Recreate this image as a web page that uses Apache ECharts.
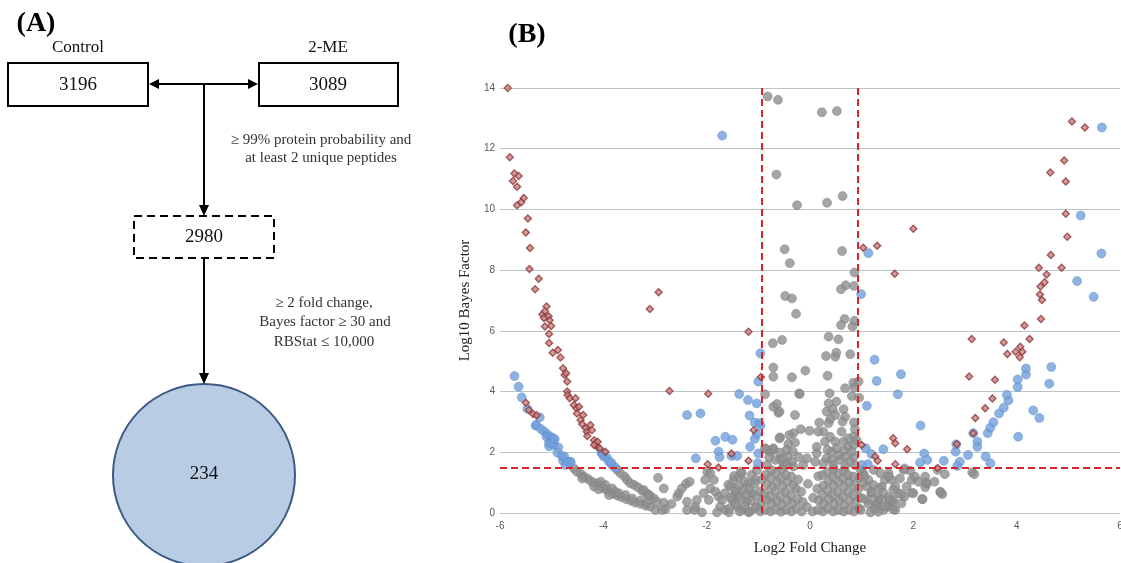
<!DOCTYPE html>
<html><head><meta charset="utf-8">
<script src="https://cdn.jsdelivr.net/npm/echarts@6/dist/echarts.min.js"></script>
<style>html,body{margin:0;padding:0;background:#fff}#c{width:1121px;height:563px}</style>
</head><body><div id="c"></div>
<script>
// ---------- Panel A (flowchart) values ----------
const controlCount = 3196;
const meCount = 3089;
const filteredCount = 2980;
const significantCount = 234;
const filterText1 = ['\u2265 99% protein probability and', 'at least 2 unique peptides'];
const filterText2 = ['\u2265 2 fold change,', 'Bayes factor \u2265 30 and', 'RBStat \u2264 10,000'];

// ---------- Panel B (volcano) values ----------
const xTicks = [-6, -4, -2, 0, 2, 4, 6];
const yTicks = [0, 2, 4, 6, 8, 10, 12, 14];
const foldThresholds = [-0.93, 0.93];
const bayesThreshold = 1.477;

const redPoints = [
[-5.85,14.0],[-5.81,11.72],[-5.72,11.18],[-5.64,11.10],[-5.75,10.94],[-5.67,10.75],[-5.54,10.38],[-5.59,10.24],[-5.67,10.14],[-5.46,9.70],[-5.50,9.24],[-5.42,8.73],[-5.43,8.04],[-5.25,7.72],[-5.32,7.37],
[-5.10,6.80],[-5.18,6.55],[-5.13,6.65],[-5.15,6.42],[-5.06,6.48],[-5.04,6.35],[-5.13,6.14],[-5.01,6.16],[-5.05,5.90],[-5.05,5.60],[-4.98,5.28],[-4.88,5.37],[-4.83,5.12],[-4.78,4.77],[-4.75,4.55],[-4.72,4.60],[-4.70,4.33],[-4.70,4.00],[-4.69,3.89],[-4.65,3.78],[-4.54,3.78],[-4.57,3.56],[-4.52,3.45],[-4.47,3.50],[-4.51,3.28],[-4.39,3.23],[-4.44,3.06],[-4.41,2.93],[-4.34,2.79],[-4.25,2.90],[-4.32,2.68],[-4.22,2.73],[-4.31,2.54],[-4.18,2.40],[-4.15,2.30],[-4.12,2.18],[-4.07,2.13],[-4.11,2.35],[-3.96,2.02],[-4.18,2.24],
[-5.50,3.63],[-5.44,3.39],[-5.36,3.26],[-5.29,3.22],
[-2.93,7.27],[-3.10,6.72],[-1.19,5.97],[-2.72,4.02],[-1.97,3.93],[-0.95,4.48],[-1.09,2.73],[-1.52,1.96],[-1.19,1.72],[-1.98,1.61],[-1.77,1.50],
[5.07,12.90],[5.32,12.70],[4.92,11.61],[4.65,11.22],[4.95,10.92],[4.95,9.86],[4.98,9.10],[4.66,8.50],[4.43,8.08],[4.87,8.08],[4.58,7.86],[4.54,7.60],[4.46,7.46],[4.45,7.20],[4.49,7.02],[4.47,6.39],[4.15,6.18],[2.00,9.36],[1.03,8.74],[1.30,8.80],[1.64,7.88],
[4.25,5.73],[3.13,5.73],[3.75,5.62],[4.07,5.48],[3.98,5.31],[4.11,5.31],[4.06,5.13],[3.82,5.24],[3.08,4.50],[3.58,4.39],[3.53,3.77],[3.39,3.45],[3.20,3.13],[3.16,2.63],[2.84,2.27],[1.61,2.46],[1.65,2.30],[1.88,2.10],[1.00,2.24],[1.26,1.86],[1.31,1.72],[1.65,1.61],[2.47,1.48]
];

const bluePoints = [
[-5.72,4.51],[-5.64,4.16],[-5.58,3.81],[-5.47,3.43],[-5.23,3.15],[-5.31,2.88],[-5.21,2.77],[-5.14,2.68],[-5.08,2.59],[-5.10,2.51],[-5.02,2.46],[-4.97,2.43],[-5.05,2.30],[-5.05,2.20],[-4.96,2.24],[-4.87,2.16],[-4.89,1.99],[-4.80,1.88],[-4.78,1.72],[-4.73,1.58],[-4.65,1.69],[-5.30,2.90],[-4.99,2.49],[-5.00,2.30],[-4.94,2.43],[-4.76,1.86],[-4.70,1.69],[-4.63,1.68],
[-4.04,1.99],[-3.99,1.86],[-3.93,1.82],[-3.89,1.69],[-3.83,1.58],[-3.77,1.50],[-4.02,1.96],[-3.85,1.66],
[-1.00,4.33],[-1.37,3.92],[-1.20,3.72],[-1.03,3.61],[-2.38,3.23],[-2.12,3.28],[-1.17,3.21],[-1.07,2.98],[-0.98,2.96],[-1.03,2.60],[-1.07,2.44],[-1.83,2.38],[-1.64,2.51],[-1.50,2.41],[-1.16,2.18],[-1.77,2.02],[-1.75,1.84],[-1.52,1.88],[-1.41,1.88],[-2.21,1.80],[-1.00,1.96],[-1.01,1.64],[-0.96,5.26],[-1.70,12.43],[-0.96,2.88],
[1.13,8.56],[0.99,7.21],[1.25,5.05],[1.29,4.35],[1.76,4.57],[1.70,3.91],[1.10,3.53],[2.14,2.88],[1.08,2.13],[1.19,1.94],[1.42,2.10],[1.12,1.61],[1.00,1.58],[2.21,1.96],[2.27,1.75],[2.13,1.66],[2.59,1.72],[2.82,2.02],[2.90,1.69],[2.85,1.55],[3.06,1.91],[3.24,2.35],[3.24,2.18],[3.16,2.63],[2.83,2.26],[3.40,1.86],[3.49,1.64],[3.44,2.63],[3.49,2.81],[3.55,2.99],[3.66,3.28],[3.75,3.47],[3.84,3.71],[3.81,3.89],[4.02,4.15],[4.02,4.40],[4.18,4.56],[4.18,4.76],[4.32,3.38],[4.44,3.13],[4.03,2.51],[4.63,4.26],[4.67,4.81],[5.17,7.64],[5.49,7.12],[5.65,12.70],[5.24,9.80],[5.64,8.55]
];

const grayUpper = [
[-0.82,13.72],[-0.62,13.61],[0.23,13.20],[0.52,13.24],[-0.65,11.15],[-0.25,10.14],[0.33,10.22],[0.63,10.44],[-0.49,8.69],[-0.39,8.23],[0.62,8.63],[0.86,7.92],[0.69,7.50],[0.60,7.37],[0.85,7.48],[-0.48,7.15],[-0.35,7.07],[-0.27,6.56],[0.67,6.39],[0.60,6.19],[0.86,6.33],[0.82,6.14],[0.36,5.81],[0.55,5.72],[-0.72,5.59],[-0.54,5.70],[0.31,5.17],[0.49,5.15],[0.51,5.28],[0.78,5.23],[-0.71,4.79],[-0.09,4.69],[0.34,4.52],[-0.71,4.49],[-0.35,4.47],
[-0.87,3.91],[-0.71,3.50],[-0.64,3.59],[-0.61,3.30],[-0.58,2.49],[-0.87,2.13],[-0.77,2.02],[-0.71,2.13],
[0.68,4.11],[0.84,4.29],[0.94,4.33],[-0.20,3.92],[0.38,3.94],[0.51,3.67],[0.36,3.61],[0.81,3.85],[0.95,3.80],[-0.59,3.34],[-0.29,3.23],[0.32,3.34],[0.44,3.42],[0.49,3.23],[0.39,3.09],[0.36,2.96],[0.18,2.98],[0.26,2.68],[0.65,3.42],[0.68,3.17],[0.63,3.01],[0.85,2.98],[0.87,2.76],[0.84,2.51],[0.74,2.46],[0.65,2.35],[0.61,2.68],[0.74,2.18],[0.65,2.05],[0.55,1.91],[0.68,1.84],[0.84,1.84],[0.13,1.97],[0.34,2.08],[0.32,1.80],[0.42,1.75],[-0.01,2.71],[-0.18,2.76],[-0.59,2.46],[-0.42,2.27],[-0.45,2.08],[-0.33,2.02],[-0.29,2.32],[-0.22,1.84],[-0.43,1.84],[-0.35,1.69],[-0.58,1.77],[-0.32,2.63],[-0.40,2.57],[-0.71,2.08],[-0.51,1.58],[-0.32,1.53],[-0.13,1.58],[-0.06,1.80],[0.13,2.18],[0.29,2.35],[0.16,2.68],[0.39,2.51],[0.49,2.35],[0.42,2.02],[0.52,2.13],[0.58,1.75],[0.78,1.69],[0.87,1.58],[0.45,1.58],[0.26,1.64],[0.10,1.69],[0.68,1.53],[0.84,2.24],[0.81,2.02],[0.90,2.40],
[-0.85,2.10],[-0.79,1.84],[-0.67,1.75],[-0.58,1.99],[-0.53,1.80],[-0.45,1.58],[-0.83,1.58],[-0.21,3.94],[0.86,4.13]
];

const grayLeftCurves = [
[-4.57,1.47],[-4.51,1.36],[-4.43,1.28],[-4.38,1.20],[-4.31,1.14],[-4.25,1.06],[-4.18,1.00],[-4.11,0.96],[-4.05,0.89],[-3.99,0.81],[-3.93,0.76],[-3.86,0.69],[-3.80,0.63],[-3.72,0.57],[-3.64,0.52],[-3.55,0.45],[-3.46,0.40],[-3.38,0.34],[-3.28,0.30],[-3.18,0.24],[-3.09,0.21],[-2.99,0.10],
[-4.41,1.14],[-4.18,0.87],[-4.09,0.78],[-3.89,0.59],[-4.05,1.03],[-3.96,0.92],[-3.83,0.81],[-3.77,0.70],[-3.70,0.65],[-3.57,0.59],[-3.44,0.48],[-3.28,0.41],[-3.15,0.34],
[-3.73,1.42],[-3.67,1.31],[-3.59,1.20],[-3.54,1.09],[-3.48,0.98],[-3.40,0.92],[-3.33,0.85],[-3.25,0.73],[-3.16,0.65],[-3.10,0.57],[-3.02,0.48],[-2.96,0.37],
[-3.22,0.76],[-3.12,0.59],[-2.83,0.34],[-2.80,0.12],[-2.86,0.10]
];

const graySparseLeft = [
[-2.94,1.16],[-2.83,0.81],[-2.68,0.30],[-2.57,0.54],[-2.54,0.65],[-2.40,0.96],[-2.33,1.03],[-2.48,0.81],[-2.38,0.37],[-2.38,0.10],[-2.23,0.10],[-2.22,0.21],[-2.09,0.02],[-2.19,0.43],[-2.06,0.65],[-2.03,1.09],[-1.99,1.36],[-1.93,1.31],[-1.86,1.09],[-1.93,0.81],[-1.96,0.43],[-1.83,0.70],[-1.77,0.54],[-1.70,0.43],[-1.74,0.21],[-1.64,0.10],[-1.57,0.02],[-1.65,0.65],[-1.54,0.87],[-1.48,1.09],[-1.38,1.20],[-1.32,1.31],[-1.45,0.65],[-1.51,0.43],[-1.38,0.54],[-1.29,0.76],[-1.41,0.21],[-1.32,0.10],[-1.22,0.37],[-1.19,0.98],[-1.12,0.65],[-1.06,1.09],[-1.03,0.21],[-1.19,0.02],[-1.80,0.02]
];

const grayCenterMass = [
[-1.56,0.15],[-1.53,0.52],[-1.58,0.93],
[-1.45,0.30],[-1.43,0.76],[-1.47,1.22],
[-1.36,0.05],[-1.33,0.46],[-1.37,0.90],[-1.34,1.36],
[-1.26,0.20],[-1.23,0.62],[-1.27,1.05],
[-1.16,0.05],[-1.14,0.41],[-1.17,0.80],[-1.13,1.26],
[-1.06,0.16],[-1.04,0.55],[-1.07,0.96],[-1.03,1.41],
[-0.96,0.05],[-0.94,0.36],[-0.97,0.71],[-0.93,1.11],
[-0.86,0.10],[-0.84,0.42],[-0.87,0.66],[-0.83,0.95],[-0.86,1.26],
[-0.76,0.05],[-0.74,0.31],[-0.77,0.56],[-0.73,0.86],[-0.76,1.16],[-0.74,1.41],
[-0.66,0.11],[-0.64,0.40],[-0.67,0.71],[-0.63,1.01],[-0.66,1.31],
[-0.56,0.04],[-0.54,0.26],[-0.57,0.55],[-0.53,0.86],[-0.56,1.15],[-0.54,1.45],
[-0.46,0.10],[-0.44,0.41],[-0.47,0.70],[-0.43,1.01],[-0.46,1.25],
[-0.36,0.05],[-0.34,0.31],[-0.37,0.60],[-0.33,0.91],[-0.36,1.20],
[-0.26,0.15],[-0.24,0.46],[-0.27,0.80],[-0.23,1.10],
[-0.16,0.05],[-0.14,0.36],[-0.17,0.70],
[-0.06,0.20],[-0.04,0.96],
[0.05,0.05],[0.06,0.50],
[0.15,0.10],[0.17,0.41],[0.14,0.80],[0.16,1.21],
[0.25,0.05],[0.27,0.31],[0.24,0.60],[0.26,0.91],[0.24,1.25],
[0.35,0.15],[0.37,0.46],[0.34,0.75],[0.36,1.06],[0.34,1.35],
[0.45,0.05],[0.47,0.31],[0.44,0.60],[0.46,0.91],[0.44,1.20],[0.46,1.45],
[0.55,0.10],[0.57,0.41],[0.54,0.70],[0.56,1.01],[0.54,1.30],
[0.65,0.05],[0.67,0.26],[0.64,0.55],[0.66,0.86],[0.64,1.15],[0.66,1.40],
[0.75,0.10],[0.77,0.41],[0.74,0.70],[0.76,1.01],[0.74,1.25],
[0.85,0.05],[0.87,0.31],[0.84,0.60],[0.86,0.91],[0.84,1.20],
[0.95,0.15],[0.97,0.50],[0.94,0.80],[0.96,1.15]
];

const grayRight = [
[1.03,1.31],[1.13,1.09],[1.10,0.87],[1.19,0.65],[1.13,0.43],[1.26,0.21],[1.32,0.43],[1.39,0.87],[1.45,1.09],[1.52,1.31],[1.58,1.09],[1.65,0.87],[1.71,0.65],[1.61,0.43],[1.52,0.21],[1.65,0.10],[1.77,0.32],[1.83,0.54],[1.87,0.87],[1.97,1.09],[2.03,1.20],[2.10,1.03],[2.23,1.20],[2.26,0.96],[2.23,0.85],[2.41,1.03],[2.47,1.42],[2.61,1.28],[2.52,0.70],[2.56,0.62],[2.17,0.46],[2.00,0.65],[1.81,1.42],[1.94,1.39],[3.14,1.34],[3.18,1.28],
[0.98,1.42],[1.05,1.22],[1.02,1.00],[1.23,0.92],[1.19,0.70],[1.34,0.81],[1.42,0.67],[1.32,0.52],[1.52,0.52],[1.60,0.34],[1.29,0.30],[1.13,0.30],[1.02,0.48],[0.98,0.10],[1.17,0.02],[1.42,0.10],[1.26,0.12],[1.36,1.31],[1.52,1.20],[1.23,1.42],
[1.83,1.47],[1.74,1.14],[1.61,0.76],[1.77,0.63],[1.97,0.67],[2.18,0.45],[2.25,1.00],[2.53,0.67],[1.39,0.43],[1.55,0.43],[1.45,0.21],[1.61,0.12],[1.32,0.04]
];

const grayPoints = [].concat(grayUpper, grayLeftCurves, graySparseLeft, grayCenterMass, grayRight);

const serif = '"Liberation Serif","Times New Roman",serif';
function txt(x, y, text, size, extra) {
  return { type: 'text', x: x, y: y, z: 10,
    style: Object.assign({ text: text, fontFamily: serif, fontSize: size, fill: '#111', align: 'center', verticalAlign: 'middle' }, extra || {}) };
}
function tri(points) { return { type: 'polygon', z: 10, shape: { points: points }, style: { fill: '#000' } }; }
function seg(x1, y1, x2, y2) { return { type: 'line', z: 9, shape: { x1: x1, y1: y1, x2: x2, y2: y2 }, style: { stroke: '#000', lineWidth: 2 } }; }

const graphics = [
  txt(36, 24, '(A)', 28, { fontWeight: 'bold', fill: '#000' }),
  txt(527, 35, '(B)', 28, { fontWeight: 'bold', fill: '#000' }),
  txt(78, 48, 'Control', 17),
  txt(328, 48, '2-ME', 17),
  { type: 'rect', z: 9, shape: { x: 8, y: 63, width: 140, height: 43 }, style: { fill: '#fff', stroke: '#000', lineWidth: 2 } },
  { type: 'rect', z: 9, shape: { x: 259, y: 63, width: 139, height: 43 }, style: { fill: '#fff', stroke: '#000', lineWidth: 2 } },
  txt(78, 85, String(controlCount), 19),
  txt(328, 85, String(meCount), 19),
  seg(156, 84, 251, 84),
  tri([[149, 84], [159, 79], [159, 89]]),
  tri([[258, 84], [248, 79], [248, 89]]),
  seg(204, 84, 204, 207),
  tri([[204, 216], [199, 205], [209, 205]]),
  txt(321, 140, filterText1[0], 15, { fill: '#333' }),
  txt(321, 158, filterText1[1], 15, { fill: '#333' }),
  { type: 'rect', z: 9, shape: { x: 134, y: 216, width: 140, height: 42 }, style: { fill: '#fff', stroke: '#000', lineWidth: 2, lineDash: [8, 5] } },
  txt(204, 237, String(filteredCount), 19),
  seg(204, 258, 204, 375),
  tri([[204, 384], [199, 373], [209, 373]]),
  txt(324, 303, filterText2[0], 15, { fill: '#333' }),
  txt(325, 322, filterText2[1], 15, { fill: '#333' }),
  txt(324, 342, filterText2[2], 15, { fill: '#333' }),
  { type: 'circle', z: 8, shape: { cx: 204, cy: 475, r: 91 }, style: { fill: '#b8cce4', stroke: '#3d5a84', lineWidth: 2 } },
  txt(204, 474, String(significantCount), 19)
];

const chart = echarts.init(document.getElementById('c'), null, { renderer: 'canvas' });
chart.setOption({
  animation: false,
  backgroundColor: '#fff',
  grid: { left: 500, right: 1, top: 88, bottom: 50, containLabel: false, outerBoundsMode: 'none' },
  xAxis: {
    type: 'value', min: xTicks[0], max: xTicks[xTicks.length - 1], interval: 2,
    name: 'Log2 Fold Change', nameLocation: 'middle', nameGap: 28,
    nameTextStyle: { fontFamily: serif, fontSize: 15, color: '#222' },
    axisLine: { show: false }, axisTick: { show: false }, splitLine: { show: false },
    axisLabel: { color: '#595959', fontSize: 10, fontFamily: '"Liberation Sans",Arial,sans-serif', margin: 8 }
  },
  yAxis: {
    type: 'value', min: yTicks[0], max: yTicks[yTicks.length - 1], interval: 2,
    name: 'Log10 Bayes Factor', nameLocation: 'middle', nameGap: 26,
    nameTextStyle: { fontFamily: serif, fontSize: 15, color: '#222' },
    axisLine: { show: false }, axisTick: { show: false },
    splitLine: { show: true, lineStyle: { color: '#b9c4cb', width: 1 } },
    axisLabel: { color: '#595959', fontSize: 10, fontFamily: '"Liberation Sans",Arial,sans-serif', margin: 5 }
  },
  graphic: graphics,
  series: [
    { type: 'scatter', name: 'not significant', data: grayPoints, symbol: 'circle', symbolSize: 9, clip: false,
      itemStyle: { color: '#8f8f8f', borderColor: '#7c7c7c', borderWidth: 0.6 } },
    { type: 'scatter', name: 'significant', data: bluePoints, symbol: 'circle', symbolSize: 9, clip: false,
      itemStyle: { color: '#72a0db', borderColor: '#5b8acb', borderWidth: 0.6 } },
    { type: 'scatter', name: 'significant (alt)', data: redPoints, symbol: 'diamond', symbolSize: 7, clip: false,
      itemStyle: { color: '#c98383', borderColor: '#8e3a3a', borderWidth: 1.4 } },
    { type: 'scatter', name: 'thresholds', data: [], z: 5,
      markLine: { silent: true, symbol: ['none', 'none'], label: { show: false }, animation: false,
        lineStyle: { color: '#d7262b', width: 2, type: [7, 4] },
        data: [{ xAxis: foldThresholds[0] }, { xAxis: foldThresholds[1] }, { yAxis: bayesThreshold }] } }
  ]
});
</script>
</body></html>
